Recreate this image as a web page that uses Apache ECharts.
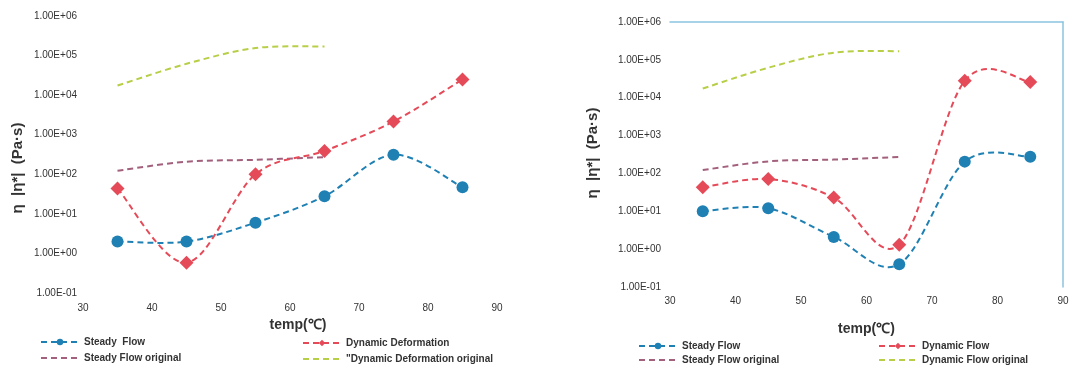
<!DOCTYPE html>
<html>
<head>
<meta charset="utf-8">
<script src="https://cdn.jsdelivr.net/npm/echarts@6/dist/echarts.min.js"></script>
<style>
  html, body { margin: 0; padding: 0; background: #fff; }
  #wrap { position: relative; width: 1091px; height: 368px; overflow: hidden; }
  #left { position: absolute; left: 0; top: 0; width: 546px; height: 368px; }
  #right { position: absolute; left: 546px; top: 0; width: 545px; height: 368px; }
</style>
</head>
<body>
<div id="wrap"><div id="left"></div><div id="right"></div></div>
<script>
// Temperatures (°C)
const temps = [35, 45, 55, 65, 75, 85];
const tempsOriginal = [35, 45, 55, 65];

// Viscosity η / |η*| (Pa·s), left panel
const steadyFlowL = [2.0, 2.0, 6.0, 28, 310, 47];
const dynDeformL = [44, 0.58, 100, 390, 2150, 25000];
// Viscosity, right panel
const steadyFlowR = [10, 12, 2.1, 0.40, 205, 275];
const dynFlowR = [43, 71, 23, 1.3, 28000, 26000];
// Reference ("original") curves, shared by both panels
const steadyOriginal = [123, 208, 232, 272];
const dynOriginal = [17500, 62000, 155000, 170000];

// Axis ticks
const xTicks = [30, 40, 50, 60, 70, 80, 90];
const yMin = 0.1, yMax = 1e6;

const FONT = '"Liberation Sans", Arial, sans-serif';
const BLUE = '#1f80b4', RED = '#e54a58', MAUVE = '#a2607c', GREEN = '#b7cf47';
const DASH = [6, 4];

function sci(v) {
  const e = Math.round(Math.log10(v));
  const sign = e < 0 ? '-' : '+';
  const a = Math.abs(e);
  return '1.00E' + sign + (a < 10 ? '0' : '') + a;
}

function pairs(xs, ys) { return xs.map((x, i) => [x, ys[i]]); }

// Spreadsheet-style smoothed curve: cubic Bézier segments whose tangents
// follow the neighbouring points (Catmull-Rom, factor 1/6), in pixel space.
function curveSeries(xs, ys, color) {
  const pts = pairs(xs, ys);
  return {
    type: 'custom', silent: true, animation: false, z: 2,
    data: pts,
    renderItem(params, api) {
      if (params.dataIndex !== 0) return null;
      const p = pts.map(d => api.coord(d));
      let d = 'M' + p[0][0] + ',' + p[0][1];
      for (let i = 0; i < p.length - 1; i++) {
        const p0 = p[i - 1] || p[i], p1 = p[i], p2 = p[i + 1], p3 = p[i + 2] || p[i + 1];
        const c1 = [p1[0] + (p2[0] - p0[0]) / 6, p1[1] + (p2[1] - p0[1]) / 6];
        const c2 = [p2[0] - (p3[0] - p1[0]) / 6, p2[1] - (p3[1] - p1[1]) / 6];
        d += 'C' + c1[0] + ',' + c1[1] + ' ' + c2[0] + ',' + c2[1] + ' ' + p2[0] + ',' + p2[1];
      }
      return {
        type: 'path', shape: { pathData: d },
        style: { fill: 'none', stroke: color, lineWidth: 2, lineDash: DASH }
      };
    }
  };
}

// Markers (and legend entry); the connecting curve is drawn by curveSeries.
function markerSeries(name, xs, ys, color, symbol) {
  return {
    name, type: 'line',
    data: pairs(xs, ys),
    symbol: symbol || 'none',
    symbolSize: symbol === 'diamond' ? 14 : 12,
    showSymbol: !!symbol,
    itemStyle: { color },
    lineStyle: { color, width: 0, opacity: 0 },
    z: 3, animation: false
  };
}

function legendItem(name, color, marker) {
  return {
    name,
    itemStyle: { color, opacity: marker ? 1 : 0, borderWidth: 0 },
    lineStyle: { color, width: 2, type: DASH, opacity: 1 }
  };
}

function buildOption(cfg) {
  const legendText = { fontFamily: FONT, fontSize: 10, fontWeight: 'bold', color: '#333' };
  const legendBase = {
    orient: 'vertical', itemWidth: 38, itemHeight: 8, itemGap: cfg.legendGap,
    textStyle: legendText, selectedMode: false, padding: 0
  };
  const xAxes = [{
    type: 'value', min: xTicks[0], max: xTicks[xTicks.length - 1], interval: 10,
    axisLine: { show: false }, axisTick: { show: false }, splitLine: { show: false },
    axisLabel: { fontFamily: FONT, fontSize: 10, color: '#333', margin: cfg.xLabelMargin },
    name: 'temp(℃)', nameLocation: 'middle', nameGap: cfg.xNameGap,
    nameTextStyle: { fontFamily: FONT, fontSize: 14, fontWeight: 'bold', color: '#333', padding: cfg.xNamePad }
  }];
  const yAxes = [{
    type: 'log', logBase: 10, min: yMin, max: yMax, interval: 1,
    axisLine: { show: false }, axisTick: { show: false }, splitLine: { show: false },
    axisLabel: { fontFamily: FONT, fontSize: 10, color: '#333', margin: cfg.yLabelMargin, formatter: sci }
  }];
  if (cfg.frame) {
    // light frame along the top and right edges of the plot area
    xAxes.push({ type: 'value', position: 'top', min: 0, max: 1, axisLine: { show: true, lineStyle: { color: cfg.frame, width: 1.5 } },
      axisTick: { show: false }, axisLabel: { show: false }, splitLine: { show: false } });
    yAxes.push({ type: 'value', position: 'right', min: 0, max: 1, axisLine: { show: true, lineStyle: { color: cfg.frame, width: 1.5 } },
      axisTick: { show: false }, axisLabel: { show: false }, splitLine: { show: false } });
  }
  const n = cfg.names;
  return {
    animation: false,
    grid: cfg.grid,
    xAxis: xAxes,
    yAxis: yAxes,
    legend: [
      Object.assign({}, legendBase, { left: cfg.legend[0][0], top: cfg.legend[0][1],
        data: [legendItem(n[0], BLUE, true), legendItem(n[2], MAUVE, false)] }),
      Object.assign({}, legendBase, { left: cfg.legend[1][0], top: cfg.legend[1][1],
        data: [legendItem(n[1], RED, true), legendItem(n[3], GREEN, false)] })
    ],
    graphic: [{
      type: 'text', x: cfg.yTitle[0], y: cfg.yTitle[1], rotation: Math.PI / 2,
      style: { text: 'η  |η*|  (Pa·s)', font: 'bold 15px ' + FONT, fill: '#333', align: 'center', verticalAlign: 'middle' }
    }],
    series: [
      curveSeries(tempsOriginal, steadyOriginal, MAUVE),
      curveSeries(tempsOriginal, dynOriginal, GREEN),
      curveSeries(temps, cfg.steady, BLUE),
      curveSeries(temps, cfg.dynamic, RED),
      markerSeries(n[2], tempsOriginal, steadyOriginal, MAUVE),
      markerSeries(n[3], tempsOriginal, dynOriginal, GREEN),
      markerSeries(n[0], temps, cfg.steady, BLUE, 'circle'),
      markerSeries(n[1], temps, cfg.dynamic, RED, 'diamond')
    ]
  };
}

const leftChart = echarts.init(document.getElementById('left'), null, { renderer: 'canvas' });
leftChart.setOption(buildOption({
  grid: { left: 83, top: 16, width: 414, height: 277 },
  names: ['Steady  Flow', 'Dynamic Deformation', 'Steady Flow original', '"Dynamic Deformation original'],
  steady: steadyFlowL, dynamic: dynDeformL,
  legend: [[40, 337], [302, 338]], legendGap: 6,
  yTitle: [18, 168],
  xLabelMargin: 10, yLabelMargin: 6, xNameGap: 25, xNamePad: [0, 0, 0, 16]
}));

const rightChart = echarts.init(document.getElementById('right'), null, { renderer: 'canvas' });
rightChart.setOption(buildOption({
  grid: { left: 124, top: 22, width: 393, height: 265 },
  names: ['Steady Flow', 'Dynamic Flow', 'Steady Flow original', 'Dynamic Flow original'],
  steady: steadyFlowR, dynamic: dynFlowR,
  legend: [[92, 341], [332, 341]], legendGap: 4,
  yTitle: [47, 153],
  frame: '#8cc3df',
  xLabelMargin: 9, yLabelMargin: 9, xNameGap: 35, xNamePad: [0, 0, 0, 0]
}));
</script>
</body>
</html>
